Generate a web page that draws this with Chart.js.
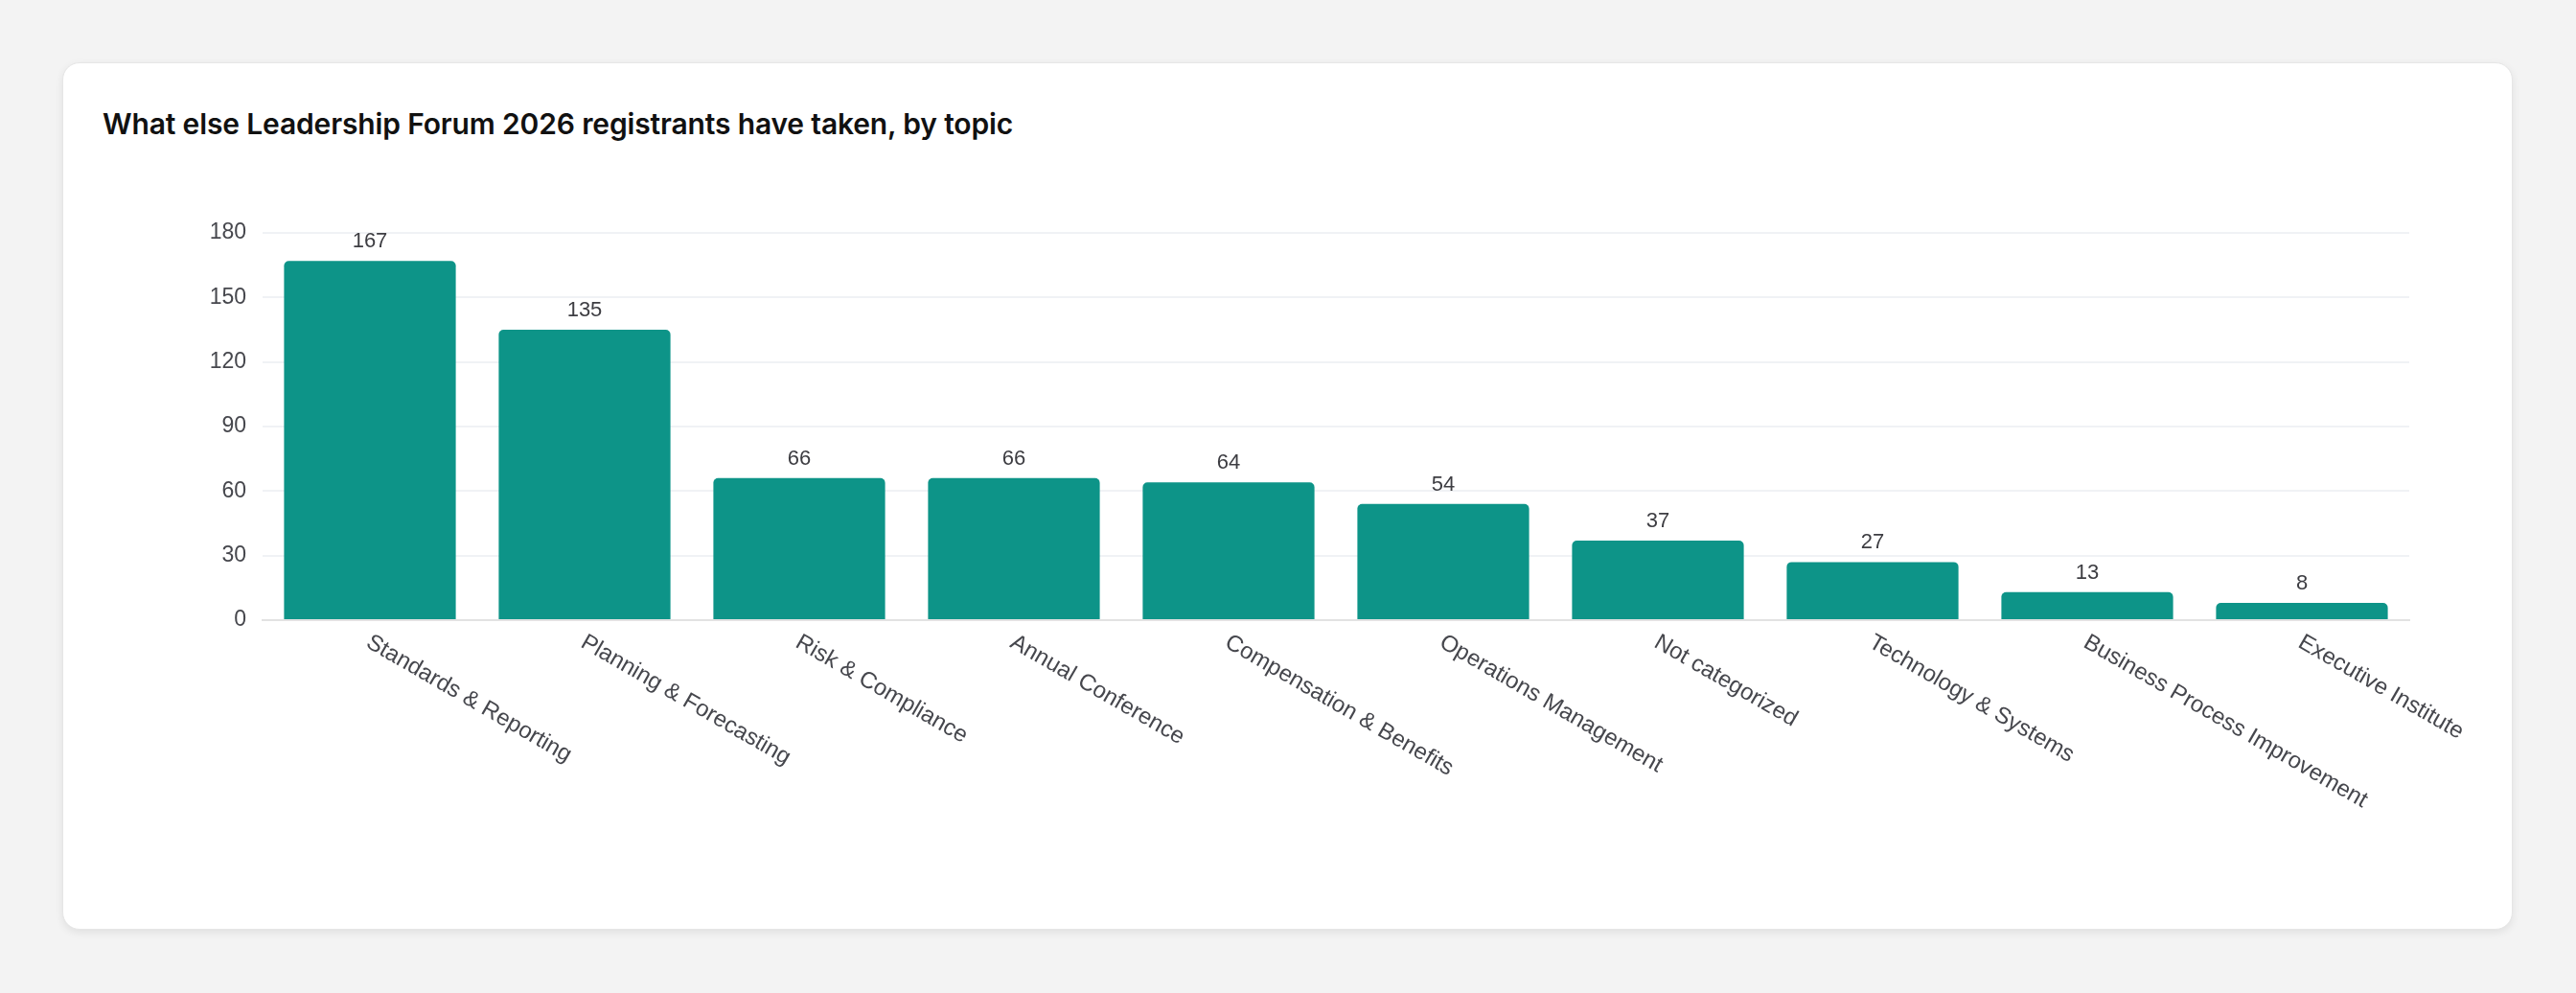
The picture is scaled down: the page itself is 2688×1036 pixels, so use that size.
<!DOCTYPE html>
<html>
<head>
<meta charset="utf-8">
<script src="https://cdn.jsdelivr.net/npm/chart.js@4"></script>
<style>
  html, body { margin: 0; padding: 0; }
  body { width: 2688px; height: 1036px; background: #f3f3f3; position: relative; overflow: hidden; }
  .card {
    position: absolute; left: 65px; top: 65px; width: 2557px; height: 905px;
    box-sizing: border-box; background: #fff; border: 1px solid #e6e6e6;
    border-radius: 18px; box-shadow: 0 3px 8px rgba(0,0,0,0.08);
  }
  .title {
    position: absolute; left: 107px; top: 111px;
    font-family: Inter, "Noto Sans", sans-serif; font-weight: 600; font-size: 30px;
    color: #111; letter-spacing: -0.15px; white-space: nowrap;
  }
  .chart-wrap { position: absolute; left: 0; top: 0; width: 2688px; height: 1036px; }
</style>
</head>
<body>
<div class="card"></div>
<div class="title">What else Leadership Forum 2026 registrants have taken, by topic</div>
<div class="chart-wrap"><canvas id="topicChart"></canvas></div>
<script>
const categories = [
  "Standards & Reporting",
  "Planning & Forecasting",
  "Risk & Compliance",
  "Annual Conference",
  "Compensation & Benefits",
  "Operations Management",
  "Not categorized",
  "Technology & Systems",
  "Business Process Improvement",
  "Executive Institute"
];
const registrantCounts = [167, 135, 66, 66, 64, 54, 37, 27, 13, 8];
const yTicks = [0, 30, 60, 90, 120, 150, 180];

const BAR_COLOR = "#0d9488";
const TEXT_FONT = '"Liberation Sans", Arial, Helvetica, sans-serif';

// value labels above each bar
const barValueLabels = {
  id: "barValueLabels",
  afterDatasetsDraw(chart) {
    const ctx = chart.ctx;
    const meta = chart.getDatasetMeta(0);
    ctx.save();
    ctx.font = "22px " + TEXT_FONT;
    ctx.fillStyle = "#3d3d42";
    ctx.textAlign = "center";
    ctx.textBaseline = "bottom";
    meta.data.forEach(function (bar, i) {
      ctx.fillText(String(chart.data.datasets[0].data[i]), bar.x, bar.y - 9);
    });
    ctx.restore();
  }
};

// slanted category labels, starting at the tick and running down-right
const slantedXLabels = {
  id: "slantedXLabels",
  afterDraw(chart) {
    const ctx = chart.ctx;
    const xScale = chart.scales.x;
    const angle = 30 * Math.PI / 180;
    ctx.save();
    ctx.font = "24px " + TEXT_FONT;
    ctx.fillStyle = "#46474d";
    ctx.textAlign = "left";
    ctx.textBaseline = "top";
    chart.data.labels.forEach(function (label, i) {
      const x = xScale.getPixelForTick(i);
      ctx.save();
      ctx.translate(x + 4, xScale.top + 11);
      ctx.rotate(angle);
      ctx.fillText(label, 0, 0);
      ctx.restore();
    });
    ctx.restore();
  }
};

new Chart(document.getElementById("topicChart"), {
  type: "bar",
  data: {
    labels: categories,
    datasets: [{
      data: registrantCounts,
      backgroundColor: BAR_COLOR,
      borderRadius: 5,
      borderSkipped: "bottom",
      barPercentage: 0.8,
      categoryPercentage: 1.0
    }]
  },
  options: {
    responsive: true,
    maintainAspectRatio: false,
    animation: false,
    devicePixelRatio: 1,
    layout: { padding: { top: 243, left: 194, right: 174, bottom: 379 } },
    plugins: {
      legend: { display: false },
      tooltip: { enabled: false }
    },
    scales: {
      x: {
        grid: { display: false },
        border: { display: true, color: "#e2e2e2", width: 2 },
        ticks: { display: false },
        afterFit(scale) { scale.height = 10; }
      },
      y: {
        min: 0,
        max: 180,
        afterBuildTicks(scale) { scale.ticks = yTicks.map(v => ({ value: v })); },
        grid: { color: "#f0f2f5", lineWidth: 2, drawTicks: false },
        border: { display: false },
        ticks: {
          padding: 17,
          color: "#46474d",
          font: { family: TEXT_FONT, size: 23 }
        },
        afterFit(scale) { scale.width = 80; }
      }
    }
  },
  plugins: [barValueLabels, slantedXLabels]
});
</script>
</body>
</html>
